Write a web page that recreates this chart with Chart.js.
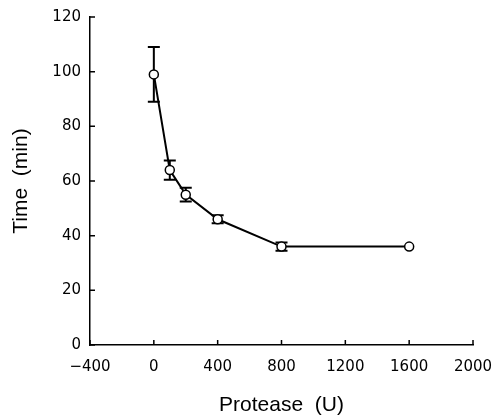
<!DOCTYPE html>
<html>
<head>
<meta charset="utf-8">
<style>
  html, body { margin: 0; padding: 0; background: #fff; }
  #wrap { width: 496px; height: 418px; }
</style>
<script src="https://cdn.jsdelivr.net/npm/chart.js@4.4.1/dist/chart.umd.min.js"></script>
</head>
<body>
<div id="wrap"><canvas id="chart" width="496" height="418"></canvas></div>
<script>
const protease = [0, 100, 200, 400, 800, 1600];
const timeMin = [99, 64, 55, 46, 36, 36];
const timeErr = [10, 3.5, 2.5, 1.5, 1.5, 0];

const TICK_FONT = { family: 'DejaVu Sans', size: 15 };
const TITLE_FONT = { family: 'Liberation Sans', size: 21 };

// plain numbers, real minus sign
const fmt = v => (v < 0 ? '\u2212' + Math.abs(v) : String(v));

// error bars drawn under the line and markers
const errorBars = {
    id: 'errorBars',
    beforeDatasetsDraw(chart) {
        const { ctx, scales: { x, y } } = chart;
        ctx.save();
        ctx.strokeStyle = '#000';
        ctx.lineWidth = 2;
        protease.forEach((p, i) => {
            if (!timeErr[i]) return;
            const px = x.getPixelForValue(p);
            const top = y.getPixelForValue(timeMin[i] + timeErr[i]);
            const bot = y.getPixelForValue(timeMin[i] - timeErr[i]);
            ctx.beginPath();
            ctx.moveTo(px, top);
            ctx.lineTo(px, bot);
            ctx.moveTo(px - 6, top);
            ctx.lineTo(px + 6, top);
            ctx.moveTo(px - 6, bot);
            ctx.lineTo(px + 6, bot);
            ctx.stroke();
        });
        ctx.restore();
    }
};

// small tick marks pointing into the plot
const innerTicks = {
    id: 'innerTicks',
    afterDraw(chart) {
        const { ctx, chartArea, scales: { x, y } } = chart;
        ctx.save();
        ctx.strokeStyle = '#000';
        ctx.lineWidth = 1.5;
        ctx.beginPath();
        x.ticks.forEach(t => {
            const px = x.getPixelForValue(t.value);
            ctx.moveTo(px, chartArea.bottom);
            ctx.lineTo(px, chartArea.bottom - 5);
        });
        y.ticks.forEach(t => {
            const py = y.getPixelForValue(t.value);
            ctx.moveTo(chartArea.left, py);
            ctx.lineTo(chartArea.left + 5, py);
        });
        ctx.stroke();
        ctx.restore();
    }
};

new Chart(document.getElementById('chart'), {
    type: 'scatter',
    data: {
        datasets: [{
            data: protease.map((p, i) => ({ x: p, y: timeMin[i] })),
            showLine: true,
            borderColor: '#000',
            borderWidth: 2,
            pointRadius: 4.5,
            pointBackgroundColor: '#fff',
            pointBorderColor: '#000',
            pointBorderWidth: 1.5
        }]
    },
    options: {
        responsive: false,
        animation: false,
        layout: { padding: { top: 17, right: 23, left: 0, bottom: 0 } },
        plugins: {
            legend: { display: false },
            tooltip: { enabled: false }
        },
        scales: {
            x: {
                type: 'linear',
                min: -400,
                max: 2000,
                grid: { display: false, drawTicks: false },
                border: { color: '#000', width: 1.5 },
                ticks: { stepSize: 400, color: '#000', font: TICK_FONT, padding: 13, maxRotation: 0, callback: fmt },
                title: { display: true, text: 'Protease  (U)', color: '#000', font: TITLE_FONT, padding: { top: 0, bottom: 0 } },
                afterFit(scale) {
                    scale.height = 73;
                    // tick padding otherwise gets added to the side padding
                    scale.paddingLeft = 0;
                    scale.paddingRight = 0;
                }
            },
            y: {
                min: 0,
                max: 120,
                grid: { display: false, drawTicks: false },
                border: { color: '#000', width: 1.5 },
                ticks: { stepSize: 20, color: '#000', font: TICK_FONT, padding: 9, callback: fmt },
                title: { display: true, text: 'Time  (min)', color: '#000', font: TITLE_FONT, padding: { top: 9, bottom: 0 } },
                afterFit(scale) {
                    scale.width = 90;
                    scale.paddingTop = 0;
                    scale.paddingBottom = 0;
                }
            }
        }
    },
    plugins: [errorBars, innerTicks]
});
</script>
</body>
</html>
